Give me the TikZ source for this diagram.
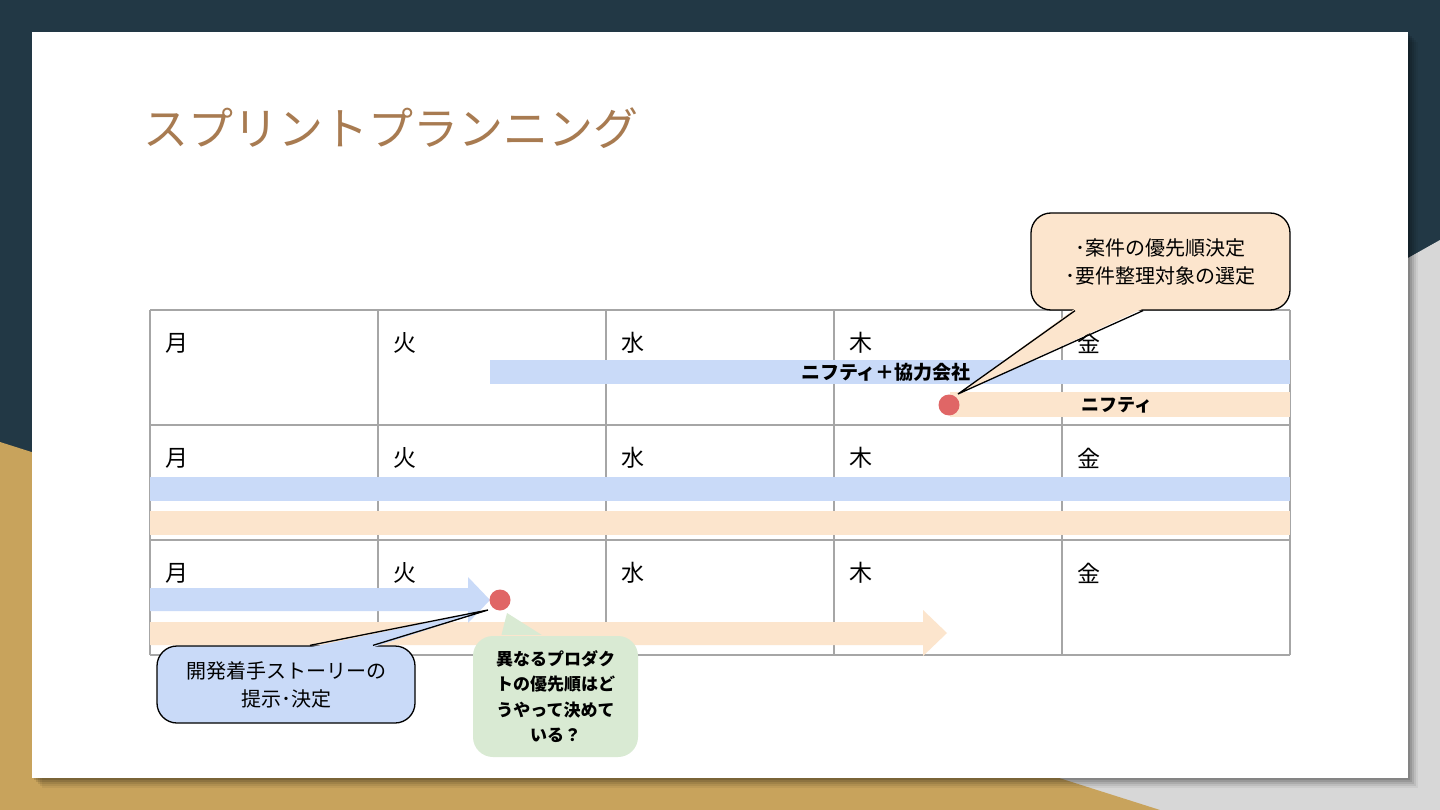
\documentclass[tikz,border=0pt]{standalone}
\usepackage{fontspec}
\setmainfont{Noto Sans CJK JP}
\definecolor{navy}{HTML}{223845}
\definecolor{gold}{HTML}{C8A35C}
\definecolor{bggray}{HTML}{D7D7D7}
\definecolor{barblue}{HTML}{C9DAF8}
\definecolor{barorange}{HTML}{FCE5CD}
\definecolor{dotred}{HTML}{E06666}
\definecolor{gridgray}{HTML}{A6A6A6}
\definecolor{titlebrown}{HTML}{A87B51}
\definecolor{notegreen}{HTML}{D9EAD3}
\tikzset{
  daylabel/.style={anchor=west, inner sep=0pt, font=\fontsize{23}{26}\selectfont},
  bartext/.style={inner sep=0pt, font=\bfseries\fontsize{19}{22}\selectfont},
  gridline/.style={draw=gridgray, line width=1.6pt},
  calloutbox/.style={rounded corners=20pt, minimum width=#1, inner sep=0pt, align=center},
  dotnode/.style={circle, fill=dotred, minimum size=21pt, inner sep=0pt},
  notetext/.style={font=\fontsize{20}{28}\selectfont},
}
\begin{document}
\begin{tikzpicture}[x=1pt,y=-1pt]
\useasboundingbox (0,0) rectangle (1440,810);
% background
\fill[navy] (0,0) rectangle (1440,810);
\fill[bggray] (1440,240) -- (427,810) -- (1440,810) -- cycle;
\fill[gold] (0,442) -- (1160,810) -- (0,810) -- cycle;
% card shadow
\foreach \d/\o in {10/0.05,8/0.07,6/0.09,4/0.11,2/0.13}{
  \fill[black, opacity=\o] (32+\d,32+\d) rectangle (1408+\d,778+\d);
}
\fill[white] (32,32) rectangle (1408,778);
% title
\node[anchor=west, inner sep=0pt, text=titlebrown, font=\fontsize{45}{50}\selectfont] (title) at (143,128) {スプリントプランニング};
% grid
\foreach \x in {150,378,606,834,1062,1290}{
  \draw[gridline] (\x,310) -- (\x,655);
}
\foreach \y in {310,425,540,655}{
  \draw[gridline] (150,\y) -- (1290,\y);
}
% day labels
\foreach \r/\y in {1/343,2/458,3/573}{
  \node[daylabel] (mon\r) at (165,\y) {月};
  \node[daylabel] (tue\r) at (393,\y) {火};
  \node[daylabel] (wed\r) at (621,\y) {水};
  \node[daylabel] (thu\r) at (849,\y) {木};
  \node[daylabel] (fri\r) at (1077,\y) {金};
}
% row 1 bars
\fill[barblue] (490,360) rectangle (1290,384);
\node[bartext] (bluetext) at (886,372) {ニフティ＋協力会社};
\fill[barorange] (950,392) rectangle (1290,417);
\node[bartext, font=\bfseries\fontsize{18}{22}\selectfont] (orangetext) at (1117,405) {ニフティ};
\node[dotnode] (dot1) at (949,405) {};
% row 2 bars
\fill[barblue] (150,477) rectangle (1290,501);
\fill[barorange] (150,511) rectangle (1290,535);
% row 3 arrows
\fill[barorange] (150,622) -- (923,622) -- (923,610) -- (947,633) -- (923,656) -- (923,645) -- (150,645) -- cycle;
\fill[barblue] (150,588) -- (468,588) -- (468,577) -- (490,600) -- (468,623) -- (468,611) -- (150,611) -- cycle;
\node[dotnode] (dot3) at (500,600) {};
% top right callout
\node[calloutbox=259pt, minimum height=97pt, fill=barorange, draw=black, line width=1.3pt, notetext] (note1) at (1160.5,261.5) {･案件の優先順決定\\･要件整理対象の選定};
\coordinate (tip1) at (958,394);
\fill[barorange] ([xshift=-85.5pt,yshift=2pt]note1.south) -- (tip1) -- ([xshift=-17.5pt,yshift=2pt]note1.south) -- cycle;
\draw[line width=1.3pt, line join=miter] ([xshift=-85.5pt]note1.south) -- (tip1) -- ([xshift=-17.5pt]note1.south);
% bottom left callout
\node[calloutbox=258pt, minimum height=77pt, fill=barblue, draw=black, line width=1.3pt, notetext] (note2) at (286,684.5) {開発着手ストーリーの\\提示･決定};
\coordinate (tip2) at (488,610);
\fill[barblue] ([xshift=24pt,yshift=-2pt]note2.north) -- (tip2) -- ([xshift=87pt,yshift=-2pt]note2.north) -- cycle;
\draw[line width=1.3pt, line join=miter] ([xshift=24pt]note2.north) -- (tip2) -- ([xshift=87pt]note2.north);
% green callout
\node[calloutbox=165pt, minimum height=121pt, fill=notegreen, font=\bfseries\fontsize{17}{25.5}\selectfont] (note3) at (555.5,696.5) {異なるプロダク\\トの優先順はど\\うやって決めて\\いる？};
\coordinate (tip3) at (507,613);
\fill[notegreen] ([xshift=-54pt,yshift=1pt]note3.north) -- (tip3) -- ([xshift=-14pt,yshift=1pt]note3.north) -- cycle;
\end{tikzpicture}
\end{document}
